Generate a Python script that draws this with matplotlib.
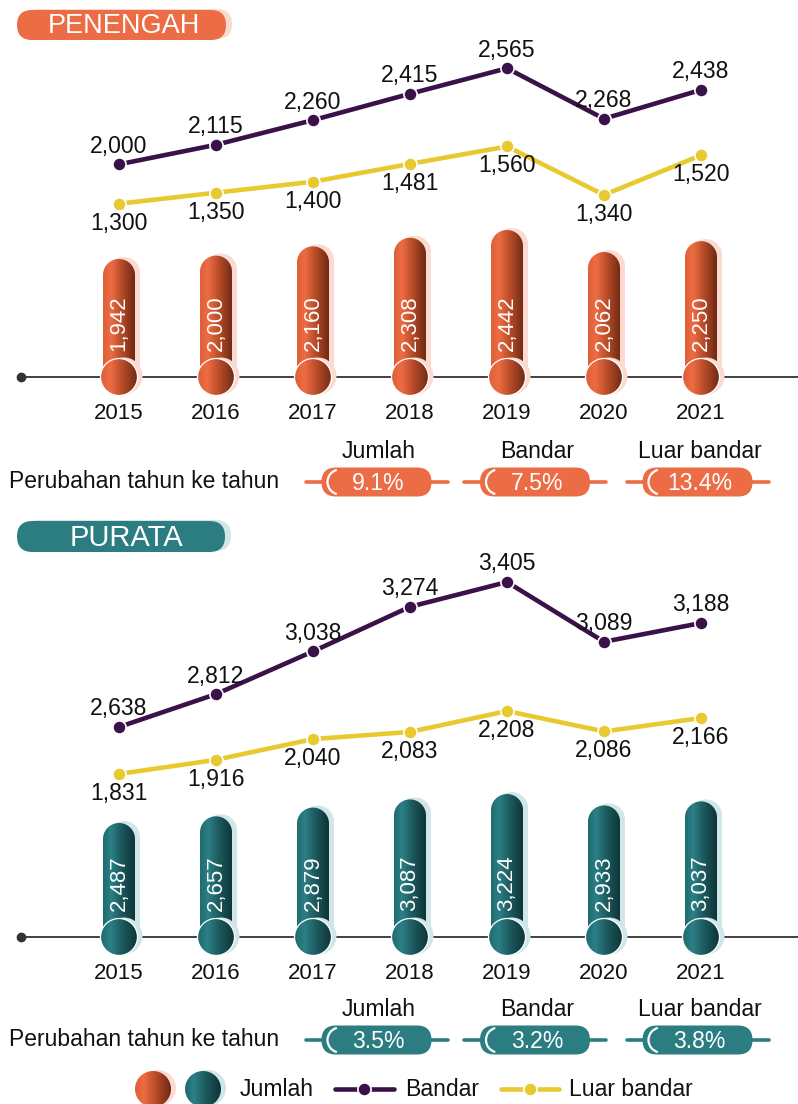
import numpy as np
import matplotlib
matplotlib.use('Agg')
import matplotlib.pyplot as plt
from matplotlib.patches import FancyBboxPatch, Ellipse, Polygon, Arc
from matplotlib.colors import LinearSegmentedColormap

plt.rcParams['font.family'] = ['Liberation Sans', 'DejaVu Sans']

# ---------------- data ----------------
years = ['2015', '2016', '2017', '2018', '2019', '2020', '2021']
pen_jumlah = [1942, 2000, 2160, 2308, 2442, 2062, 2250]
pen_bandar = [2000, 2115, 2260, 2415, 2565, 2268, 2438]
pen_luar = [1300, 1350, 1400, 1481, 1560, 1340, 1520]
pen_change = ['9.1%', '7.5%', '13.4%']
pur_jumlah = [2487, 2657, 2879, 3087, 3224, 2933, 3037]
pur_bandar = [2638, 2812, 3038, 3274, 3405, 3089, 3188]
pur_luar = [1831, 1916, 2040, 2083, 2208, 2086, 2166]
pur_change = ['3.5%', '3.2%', '3.8%']
change_labels = ['Jumlah', 'Bandar', 'Luar bandar']
titles = ['PENENGAH', 'PURATA']
change_title = 'Perubahan tahun ke tahun'
legend_labels = ['Jumlah', 'Bandar', 'Luar bandar']

# ---------------- style ----------------
ORANGE = '#ec6c45'
ORANGE_SH = '#fcdad1'
TEAL = '#2c7d82'
TEAL_SH = '#d0e6e8'
C_BANDAR = '#3a1249'
C_LUAR = '#e8c930'
AXIS_C = '#333333'
orange_cmap = LinearSegmentedColormap.from_list(
    'o', [(0, '#dc6038'), (0.25, '#ee6c43'), (0.6, '#b44a27'), (1, '#6c2913')])
teal_cmap = LinearSegmentedColormap.from_list(
    't', [(0, '#1f6b70'), (0.25, '#2b8086'), (0.6, '#1b575b'), (1, '#0d3336')])

W, H = 798, 1104
fig = plt.figure(figsize=(W / 100, H / 100), dpi=100)

ov = fig.add_axes([0, 0, 1, 1])
ov.set_xlim(0, W)
ov.set_ylim(H, 0)
ov.axis('off')

X0, DX = 119, 97          # pixel of first year and spacing
FS = 16
FSL = 16.6


def panel_axes(top, bot):
    ax = fig.add_axes([0, 1 - bot / H, 1, (bot - top) / H])
    ax.patch.set_alpha(0)
    return ax


def set_scale(ax, v_ref, p_ref, s, top, bot):
    ax.set_xlim(-X0 / DX, (W - X0) / DX)
    ax.set_ylim(v_ref - (bot - p_ref) / s, v_ref + (p_ref - top) / s)
    ax.axis('off')


def draw_bars(ax, vals, v_ref, p_ref, s, base_px, cmap, sh_col):
    base = v_ref + (p_ref - base_px) / s
    bw = 16 / DX
    ry = 16 / s
    rcx, rcy = 18.5 / DX, 18.5 / s
    sx, sy = 5 / DX, 2 / s
    grad = np.linspace(0, 1, 256)[None, :]
    t = np.linspace(0, np.pi, 50)
    for i, v in enumerate(vals):
        def pill(dx, dy):
            xs = np.concatenate([[i + dx + bw, i + dx + bw],
                                 i + dx + bw * np.cos(t), [i + dx - bw]])
            ys = np.concatenate([[base + dy, v - ry + dy],
                                 v - ry + dy + ry * np.sin(t), [base + dy]])
            return np.column_stack([xs, ys])
        ax.add_patch(Polygon(pill(sx, sy), closed=True, fc=sh_col, ec='none', zorder=2))
        clip = Polygon(pill(0, 0), closed=True, fc='none', ec='none', zorder=3)
        ax.add_patch(clip)
        im = ax.imshow(grad, cmap=cmap, extent=[i - bw, i + bw, base, v],
                       aspect='auto', zorder=3, interpolation='bilinear')
        im.set_clip_path(clip)
        # circle
        ax.add_patch(Ellipse((i + sx, base + sy * 0.5), 2 * rcx, 2 * rcy,
                             fc=sh_col, ec='none', zorder=4))
        ce = Ellipse((i, base), 2 * rcx, 2 * rcy, fc='none', ec='none', zorder=5)
        ax.add_patch(ce)
        im2 = ax.imshow(grad, cmap=cmap, extent=[i - rcx, i + rcx, base - rcy, base + rcy],
                        aspect='auto', zorder=5, interpolation='bilinear')
        im2.set_clip_path(ce)
        ax.add_patch(Ellipse((i, base), 2 * rcx, 2 * rcy, fc='none', ec='white',
                             lw=0.9, zorder=5.5))
        ax.annotate(f'{v:,}', xy=(i, base), xytext=(0, 19), textcoords='offset points',
                    rotation=90, ha='center', va='bottom', color='white',
                    fontsize=16, zorder=7)
        ax.annotate(years[i], xy=(i, base), xytext=(0, -26), textcoords='offset points',
                    ha='center', va='center', fontsize=FS, color='#111111')


def draw_line(ax, vals, color, dy):
    x = np.arange(len(vals))
    ax.plot(x, vals, color=color, lw=3.3, marker='o', ms=9.5, mfc=color,
            mec='white', mew=1.2, zorder=3)
    for i, v in enumerate(vals):
        ax.annotate(f'{v:,}', xy=(i, v), xytext=(0, dy), textcoords='offset points',
                    ha='center', va='center', fontsize=FSL, color='#111111')


def title_pill(x, y, w, h, col, sh, text, fs, tx):
    ov.add_patch(FancyBboxPatch((x + 6, y - 1), w, h, boxstyle=f'round,pad=0,rounding_size={h/2}',
                                fc=sh, ec='none', zorder=1))
    ov.add_patch(FancyBboxPatch((x, y), w, h, boxstyle=f'round,pad=0,rounding_size={h/2}',
                                fc=col, ec='none', zorder=2))
    ov.text(tx, y + h / 2 + 1, text, color='white', fontsize=fs, ha='center', va='center', zorder=3)


def change_row(cy, col, values):
    ov.text(9, cy, change_title, fontsize=16.5, ha='left', va='center', color='#111111')
    for cx, lab, val in zip([376.5, 535, 697.5], change_labels, values):
        ov.plot([cx - 71, cx + 71], [cy, cy], color=col, lw=2.6, solid_capstyle='round', zorder=1)
        ov.add_patch(FancyBboxPatch((cx - 55, cy - 14.5), 110, 29,
                                    boxstyle='round,pad=0,rounding_size=14.5',
                                    fc=col, ec='none', zorder=2))
        ov.add_patch(Arc((cx - 55 + 14.5 + 4, cy), 25, 25, theta1=105, theta2=255,
                         color='white', lw=1.6, zorder=3))
        ov.text(cx + 2, cy + 1, val, color='white', fontsize=FSL, ha='center', va='center', zorder=4)
        ov.text(cx + 2, cy - 31, lab, color='#111111', fontsize=FSL, ha='center', va='center')


def axis_line(y):
    ov.plot([21, W], [y, y], color=AXIS_C, lw=1.3, zorder=0)
    ov.plot([21], [y], 'o', color=AXIS_C, ms=6, zorder=0)


# ---------------- panel 1 : PENENGAH ----------------
title_pill(17, 10, 209, 30, ORANGE, ORANGE_SH, titles[0], 19.5, 124)
axis_line(377)
T1, B1 = 40, 430
axb = panel_axes(T1, B1)
draw_bars(axb, pen_jumlah, 2166, 246, 0.058, 377, orange_cmap, ORANGE_SH)
set_scale(axb, 2166, 246, 0.058, T1, B1)
axl1 = panel_axes(T1, B1)
draw_line(axl1, pen_bandar, C_BANDAR, 13)
set_scale(axl1, 2299, 113.5, 0.17, T1, B1)
axl2 = panel_axes(T1, B1)
draw_line(axl2, pen_luar, C_LUAR, -14)
set_scale(axl2, 1435, 174, 0.22, T1, B1)
change_row(482, ORANGE, pen_change)

# ---------------- panel 2 : PURATA ----------------
title_pill(17, 521, 208, 31, TEAL, TEAL_SH, titles[1], 21, 126)
axis_line(937)
T2, B2 = 555, 990
axb2 = panel_axes(T2, B2)
draw_bars(axb2, pur_jumlah, 2487, 823, 0.0393, 937, teal_cmap, TEAL_SH)
set_scale(axb2, 2487, 823, 0.0393, T2, B2)
axm1 = panel_axes(T2, B2)
draw_line(axm1, pur_bandar, C_BANDAR, 13)
set_scale(axm1, 2638, 727, 0.189, T2, B2)
axm2 = panel_axes(T2, B2)
draw_line(axm2, pur_luar, C_LUAR, -14)
set_scale(axm2, 1831, 774, 0.167, T2, B2)
change_row(1040, TEAL, pur_change)

# ---------------- legend ----------------
lg = fig.add_axes([0, 0, 1, 1])
lg.patch.set_alpha(0)
grad = np.linspace(0, 1, 256)[None, :]
ly = 1089
for cx, cmap, sh in [(153, orange_cmap, ORANGE_SH), (203, teal_cmap, TEAL_SH)]:
    lg.add_patch(Ellipse((cx + 5, ly - 1), 36, 36, fc=sh, ec='none', zorder=1))
    ce = Ellipse((cx, ly), 36, 36, fc='none', ec='none', zorder=2)
    lg.add_patch(ce)
    im = lg.imshow(grad, cmap=cmap, extent=[cx - 18, cx + 18, ly + 18, ly - 18],
                   aspect='auto', zorder=2, interpolation='bilinear')
    im.set_clip_path(ce)
lg.text(240, ly, legend_labels[0], fontsize=FSL, ha='left', va='center', color='#111111')
lg.plot([335, 394], [ly, ly], color=C_BANDAR, lw=3.3, solid_capstyle='round')
lg.plot([364], [ly], 'o', color=C_BANDAR, ms=9.5, mec='white', mew=1.2)
lg.text(405, ly, legend_labels[1], fontsize=FSL, ha='left', va='center', color='#111111')
lg.plot([501, 559], [ly, ly], color=C_LUAR, lw=3.3, solid_capstyle='round')
lg.plot([530], [ly], 'o', color=C_LUAR, ms=9.5, mec='white', mew=1.2)
lg.text(569, ly, legend_labels[2], fontsize=FSL, ha='left', va='center', color='#111111')
lg.set_xlim(0, W)
lg.set_ylim(H, 0)
lg.axis('off')

fig.savefig('out.png', dpi=100)
